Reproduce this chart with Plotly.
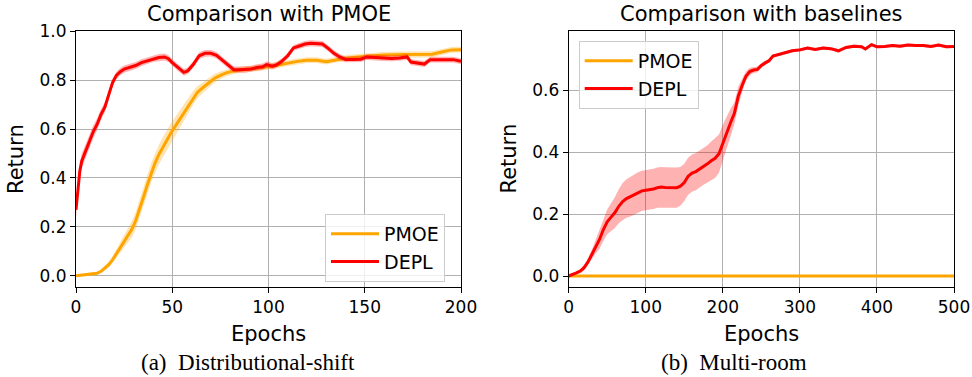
import plotly.graph_objects as go

# ---------------- Data: (a) Distributional-shift ----------------
a_depl_x = [0, 1, 2, 3, 5, 7, 9, 11, 13, 15, 17, 19, 21, 23, 25, 28, 31, 34, 37, 40, 43, 46, 48, 50,
            53, 56, 58, 61, 64, 67, 70, 73, 76, 79, 82, 85, 88, 91, 94, 97, 99, 102, 104, 107, 110,
            113, 116, 119, 122, 125, 128, 131, 134, 137, 140, 144, 148, 151, 155, 160, 164, 168, 172,
            174, 177, 181, 184, 188, 192, 196, 200]
a_depl_y = [0.27, 0.36, 0.43, 0.47, 0.51, 0.55, 0.59, 0.62, 0.66, 0.69, 0.74, 0.79, 0.82, 0.835, 0.845,
            0.852, 0.86, 0.872, 0.88, 0.888, 0.893, 0.895, 0.888, 0.872, 0.852, 0.832, 0.838, 0.865,
            0.9, 0.91, 0.91, 0.902, 0.882, 0.862, 0.843, 0.843, 0.843, 0.846, 0.852, 0.855, 0.864,
            0.857, 0.862, 0.878, 0.9, 0.932, 0.94, 0.948, 0.951, 0.95, 0.948, 0.93, 0.91, 0.895, 0.885,
            0.885, 0.886, 0.895, 0.893, 0.891, 0.889, 0.891, 0.895, 0.874, 0.87, 0.866, 0.884, 0.885,
            0.885, 0.884, 0.877]
a_depl_sd = [0.03, 0.03, 0.03, 0.03, 0.03, 0.028, 0.026, 0.024, 0.022, 0.02, 0.018, 0.016, 0.015, 0.015,
             0.015, 0.015, 0.014, 0.014, 0.014, 0.014, 0.014, 0.014, 0.014, 0.014, 0.014, 0.014, 0.014,
             0.014, 0.014, 0.014, 0.013, 0.013, 0.013, 0.013, 0.013, 0.013, 0.013, 0.013, 0.013, 0.013,
             0.013, 0.013, 0.012, 0.012, 0.012, 0.012, 0.012, 0.012, 0.012, 0.012, 0.012, 0.012, 0.012,
             0.012, 0.012, 0.012, 0.012, 0.012, 0.012, 0.012, 0.012, 0.012, 0.012, 0.012, 0.012, 0.012,
             0.012, 0.012, 0.012, 0.012, 0.012]

a_pmoe_x = [0, 4, 8, 11, 13, 15, 17, 19, 21, 23, 25, 27, 29, 31, 33, 35, 37, 39, 41, 43, 45, 47, 49, 51,
            53, 55, 57, 59, 61, 63, 66, 69, 72, 75, 78, 81, 85, 90, 95, 100, 105, 110, 115, 120, 125,
            130, 135, 140, 145, 150, 160, 170, 180, 185, 190, 195, 200]
a_pmoe_y = [0.0, 0.003, 0.006, 0.01, 0.018, 0.03, 0.045, 0.065, 0.09, 0.115, 0.14, 0.165, 0.19, 0.225,
            0.27, 0.32, 0.37, 0.42, 0.46, 0.495, 0.525, 0.555, 0.58, 0.605, 0.63, 0.655, 0.68, 0.705,
            0.73, 0.75, 0.77, 0.79, 0.808, 0.82, 0.83, 0.836, 0.842, 0.846, 0.85, 0.855, 0.862, 0.87,
            0.877, 0.882, 0.882, 0.876, 0.884, 0.89, 0.894, 0.898, 0.903, 0.905, 0.905, 0.906, 0.915,
            0.924, 0.925]
a_pmoe_sd = [0.004, 0.005, 0.006, 0.007, 0.008, 0.01, 0.012, 0.015, 0.018, 0.022, 0.026, 0.03, 0.034,
             0.036, 0.038, 0.04, 0.04, 0.04, 0.04, 0.04, 0.04, 0.04, 0.04, 0.038, 0.036, 0.034, 0.032,
             0.03, 0.028, 0.025, 0.022, 0.02, 0.018, 0.016, 0.014, 0.013, 0.012, 0.012, 0.012, 0.012,
             0.012, 0.012, 0.012, 0.012, 0.012, 0.012, 0.012, 0.012, 0.012, 0.012, 0.012, 0.012, 0.012,
             0.012, 0.012, 0.012, 0.012]

# ---------------- Data: (b) Multi-room ----------------
b_depl_x = [0, 5, 10, 15, 20, 25, 30, 35, 40, 45, 50, 55, 60, 65, 70, 75, 80, 85, 90, 95, 100, 105, 110,
            115, 120, 125, 130, 135, 140, 145, 150, 155, 160, 165, 170, 175, 180, 185, 190, 195, 200,
            205, 210, 215, 220, 225, 230, 235, 240, 245, 250, 255, 260, 265, 270, 280, 290, 300, 310,
            320, 330, 340, 350, 360, 370, 380, 385, 393, 400, 410, 420, 430, 440, 450, 460, 470, 480,
            490, 500]
b_depl_y = [0.0, 0.004, 0.01, 0.016, 0.027, 0.045, 0.07, 0.095, 0.118, 0.15, 0.175, 0.19, 0.205, 0.225,
            0.24, 0.25, 0.256, 0.263, 0.27, 0.275, 0.277, 0.278, 0.281, 0.285, 0.287, 0.286, 0.285,
            0.285, 0.285, 0.29, 0.302, 0.322, 0.332, 0.337, 0.345, 0.355, 0.362, 0.372, 0.38, 0.395,
            0.43, 0.465, 0.495, 0.525, 0.58, 0.615, 0.645, 0.66, 0.665, 0.667, 0.68, 0.688, 0.695, 0.71,
            0.713, 0.72, 0.727, 0.73, 0.736, 0.731, 0.736, 0.734, 0.727, 0.738, 0.742, 0.74, 0.733,
            0.747, 0.74, 0.741, 0.744, 0.742, 0.746, 0.744, 0.744, 0.741, 0.746, 0.74, 0.741]
b_depl_sd = [0.002, 0.003, 0.005, 0.007, 0.009, 0.012, 0.015, 0.022, 0.03, 0.036, 0.04, 0.045, 0.05,
             0.055, 0.06, 0.062, 0.064, 0.065, 0.065, 0.065, 0.065, 0.065, 0.065, 0.065, 0.065, 0.065,
             0.065, 0.065, 0.065, 0.062, 0.06, 0.06, 0.06, 0.06, 0.06, 0.06, 0.06, 0.062, 0.064, 0.062,
             0.058, 0.05, 0.045, 0.035, 0.03, 0.022, 0.015, 0.012, 0.01, 0.009, 0.008, 0.007, 0.006,
             0.006, 0.005, 0.005, 0.005, 0.005, 0.005, 0.005, 0.005, 0.005, 0.005, 0.005, 0.005, 0.005,
             0.005, 0.005, 0.005, 0.005, 0.005, 0.005, 0.005, 0.005, 0.005, 0.005, 0.005, 0.005, 0.005]

b_pmoe_x = [0, 500]
b_pmoe_y = [0.0, 0.0]

series_names = ["PMOE", "DEPL"]
x_ticks_a = [0, 50, 100, 150, 200]
y_ticks_a = [0.0, 0.2, 0.4, 0.6, 0.8, 1.0]
x_ticks_b = [0, 100, 200, 300, 400, 500]
y_ticks_b = [0.0, 0.2, 0.4, 0.6]

RED = "#ff0000"
ORANGE = "#ffa500"
RED_BAND = "rgba(255,0,0,0.3)"
ORANGE_BAND = "rgba(255,165,0,0.3)"
FONT = "DejaVu Sans"

fig = go.Figure()


def add_band(x, y, sd, color, xa, ya):
    upper = [v + s for v, s in zip(y, sd)]
    lower = [v - s for v, s in zip(y, sd)]
    fig.add_trace(go.Scatter(x=list(x) + list(x)[::-1], y=upper + lower[::-1], fill="toself",
                             fillcolor=color, line=dict(width=0), mode="lines", showlegend=False,
                             hoverinfo="skip", xaxis=xa, yaxis=ya))


# (a)
add_band(a_pmoe_x, a_pmoe_y, a_pmoe_sd, ORANGE_BAND, "x", "y")
fig.add_trace(go.Scatter(x=a_pmoe_x, y=a_pmoe_y, mode="lines", name=series_names[0],
                         line=dict(color=ORANGE, width=3), xaxis="x", yaxis="y", legend="legend"))
add_band(a_depl_x, a_depl_y, a_depl_sd, RED_BAND, "x", "y")
fig.add_trace(go.Scatter(x=a_depl_x, y=a_depl_y, mode="lines", name=series_names[1],
                         line=dict(color=RED, width=3), xaxis="x", yaxis="y", legend="legend"))

# (b)
add_band(b_depl_x, b_depl_y, b_depl_sd, RED_BAND, "x2", "y2")
fig.add_trace(go.Scatter(x=b_pmoe_x, y=b_pmoe_y, mode="lines", name=series_names[0],
                         line=dict(color=ORANGE, width=3), xaxis="x2", yaxis="y2", legend="legend2"))
fig.add_trace(go.Scatter(x=b_depl_x, y=b_depl_y, mode="lines", name=series_names[1],
                         line=dict(color=RED, width=3), xaxis="x2", yaxis="y2", legend="legend2"))

W, H = 972, 377
axis_common = dict(showgrid=True, gridcolor="#b0b0b0", gridwidth=1, showline=True, mirror=True,
                   linecolor="black", linewidth=1, ticks="outside", ticklen=5, tickcolor="black",
                   zeroline=False, automargin=False,
                   tickfont=dict(family=FONT, size=17, color="black"))

fig.update_layout(
    width=W, height=H, margin=dict(l=0, r=0, t=0, b=0, autoexpand=False),
    paper_bgcolor="white", plot_bgcolor="white",
    font=dict(family=FONT, color="black"),
    xaxis=dict(domain=[76 / W, 461 / W], range=[0, 200], tickvals=x_ticks_a, anchor="y", **axis_common),
    yaxis=dict(domain=[1 - 287 / H, 1 - 31.3 / H], range=[-0.046, 1.0], tickvals=y_ticks_a,
               tickformat=".1f", anchor="x", **axis_common),
    xaxis2=dict(domain=[568.7 / W, 954 / W], range=[0, 500], tickvals=x_ticks_b, anchor="y2", **axis_common),
    yaxis2=dict(domain=[1 - 287 / H, 1 - 31.3 / H], range=[-0.0355, 0.79], tickvals=y_ticks_b,
                tickformat=".1f", anchor="x2", **axis_common),
    legend=dict(x=325 / W, y=1 - 214 / H, xanchor="left", yanchor="top", itemwidth=48,
                bgcolor="rgba(255,255,255,0.8)", bordercolor="#cccccc", borderwidth=1,
                font=dict(family=FONT, size=19, color="black")),
    legend2=dict(x=578.7 / W, y=1 - 41 / H, xanchor="left", yanchor="top", itemwidth=48,
                 bgcolor="rgba(255,255,255,0.8)", bordercolor="#cccccc", borderwidth=1,
                 font=dict(family=FONT, size=19, color="black")),
    showlegend=True,
)

ann = []


def text(x, y, s, size, family=FONT, angle=0):
    ann.append(dict(x=x / W, y=1 - y / H, xref="paper", yref="paper", text=s, showarrow=False,
                    xanchor="center", yanchor="middle", textangle=angle,
                    font=dict(family=family, size=size, color="black")))


text(268.5, 14, "Comparison with PMOE", 21)
text(761.3, 14, "Comparison with baselines", 21)
text(268.5, 334, "Epochs", 21)
text(761.3, 334, "Epochs", 21)
text(16, 159, "Return", 21, angle=-90)
text(508.5, 159, "Return", 21, angle=-90)
text(247.5, 362, "(a)\u2002Distributional-shift", 23, family="Liberation Serif")
text(734, 362, "(b)\u2002Multi-room", 23, family="Liberation Serif")
fig.update_layout(annotations=ann)

fig.write_html("out.html", config={"displayModeBar": False},
               post_script="document.body.style.margin='0';document.body.style.padding='0';"
                           "document.documentElement.style.overflow='hidden';")
